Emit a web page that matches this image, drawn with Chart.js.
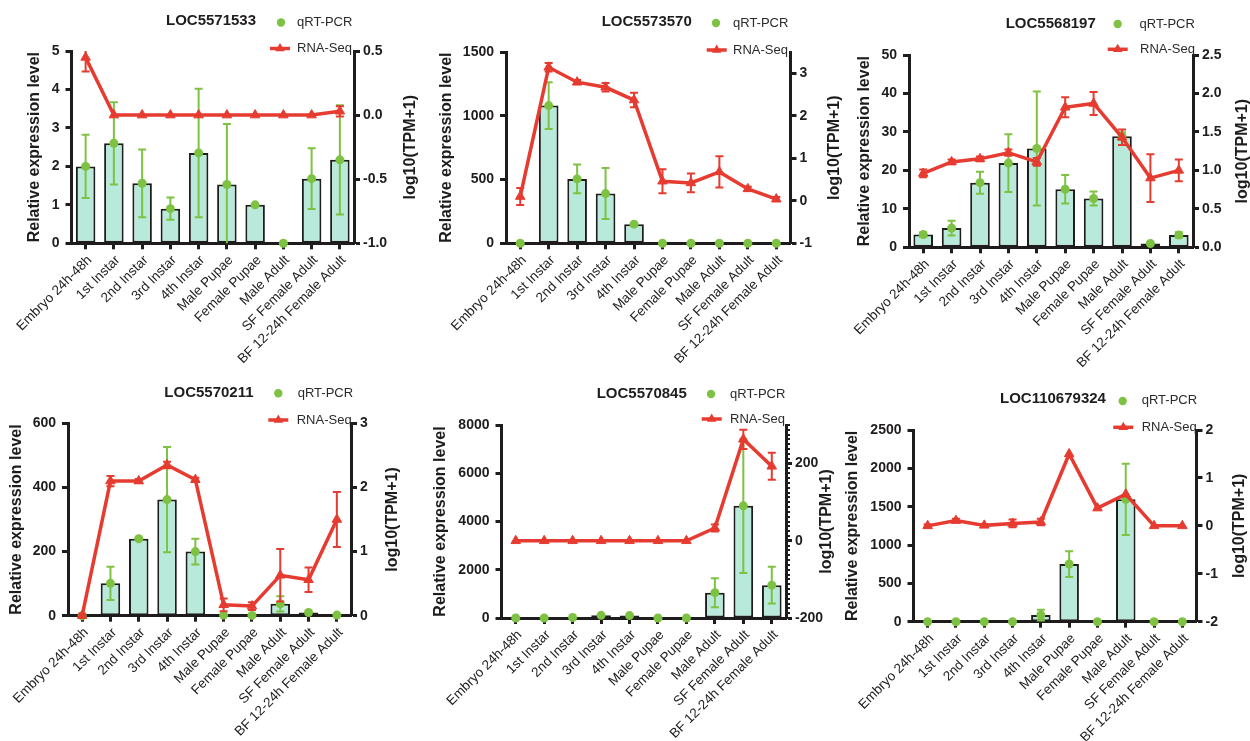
<!DOCTYPE html>
<html>
<head>
<meta charset="utf-8">
<script src="https://cdn.jsdelivr.net/npm/chart.js@4.4.1/dist/chart.umd.min.js"></script>
<style>
html,body{margin:0;padding:0;background:#fff;}
#wrap{position:relative;width:1250px;height:741px;overflow:hidden;background:#fff;}
#wrap canvas{position:absolute;left:0;top:0;}
</style>
</head>
<body>
<div id="wrap"></div>
<script>
// ---------------- DATA ----------------
const categories = ["Embryo 24h-48h","1st Instar","2nd Instar","3rd Instar","4th Instar","Male Pupae","Female Pupae","Male Adult","SF Female Adult","BF 12-24h Female Adult"];
const seriesNames = ["qRT-PCR","RNA-Seq"];
const geneNames = ["LOC5571533","LOC5573570","LOC5568197","LOC5570211","LOC5570845","LOC110679324"];
const axisTitles = ["Relative expression level","log10(TPM+1)"];

// Panel 1: LOC5571533
const qpcr1    = [2.0, 2.6, 1.56, 0.9, 2.35, 1.53, 1.0, 0, 1.68, 2.17];
const qpcrErr1 = [0.82, 1.07, 0.88, 0.29, 1.67, 1.57, 0, 0, 0.79, 1.42];
const rna1     = [0.45, 0, 0, 0, 0, 0, 0, 0, 0, 0.03];
const rnaErr1  = [0.11, 0, 0, 0, 0, 0, 0, 0, 0, 0.04];
const leftRange1 = [0, 5];      const leftTicks1 = [0,1,2,3,4,5];       const leftLabels1 = ["0","1","2","3","4","5"];
const rightRange1 = [-1, 0.5];  const rightTicks1 = [-1,-0.5,0,0.5];    const rightLabels1 = ["-1.0","-0.5","0.0","0.5"];

// Panel 2: LOC5573570
const qpcr2    = [0, 1080, 505, 390, 150, 0, 0, 0, 0, 0];
const qpcrErr2 = [0, 183, 112, 200, 0, 0, 0, 0, 0, 0];
const rna2     = [0.1, 3.14, 2.79, 2.67, 2.37, 0.46, 0.42, 0.68, 0.28, 0.04];
const rnaErr2  = [0.2, 0.1, 0.05, 0.1, 0.17, 0.28, 0.22, 0.37, 0.05, 0.05];
const leftRange2 = [0, 1500];   const leftTicks2 = [0,500,1000,1500];   const leftLabels2 = ["0","500","1000","1500"];
const rightRange2 = [-1, 3.5];  const rightTicks2 = [-1,0,1,2,3];       const rightLabels2 = ["-1","0","1","2","3"];

// Panel 3: LOC5568197
const qpcr3    = [3.3, 5.0, 16.8, 21.9, 25.7, 15.1, 12.7, 28.9, 1.0, 3.2];
const qpcrErr3 = [0.6, 1.9, 2.85, 7.5, 14.8, 3.7, 1.8, 1.0, 0, 0.7];
const rna3     = [0.96, 1.11, 1.15, 1.23, 1.11, 1.82, 1.87, 1.43, 0.9, 1.0];
const rnaErr3  = [0.05, 0.03, 0.03, 0.04, 0.05, 0.13, 0.15, 0.1, 0.31, 0.14];
const leftRange3 = [0, 50];     const leftTicks3 = [0,10,20,30,40,50];  const leftLabels3 = ["0","10","20","30","40","50"];
const rightRange3 = [0, 2.5];   const rightTicks3 = [0,0.5,1,1.5,2,2.5]; const rightLabels3 = ["0.0","0.5","1.0","1.5","2.0","2.5"];

// Panel 4: LOC5570211
const qpcr4    = [0, 101, 240, 362, 200, 2, 1, 37, 10, 2];
const qpcrErr4 = [0, 52, 4, 164, 40, 0, 0, 24, 0, 0];
const rna4     = [0, 2.1, 2.1, 2.35, 2.12, 0.17, 0.15, 0.63, 0.56, 1.5];
const rnaErr4  = [0.03, 0.08, 0.03, 0.05, 0.03, 0.1, 0.06, 0.41, 0.19, 0.43];
const leftRange4 = [0, 600];    const leftTicks4 = [0,200,400,600];     const leftLabels4 = ["0","200","400","600"];
const rightRange4 = [0, 3];     const rightTicks4 = [0,1,2,3];          const rightLabels4 = ["0","1","2","3"];

// Panel 5: LOC5570845
const qpcr5    = [0, 0, 20, 110, 100, 0, 0, 1050, 4650, 1360];
const qpcrErr5 = [0, 0, 0, 0, 0, 0, 0, 600, 2780, 760];
const rna5     = [0, 0, 0, 0, 0, 0, 0, 33, 263, 193];
const rnaErr5  = [0, 0, 0, 0, 0, 0, 0, 9, 25, 35];
const leftRange5 = [0, 8000];   const leftTicks5 = [0,2000,4000,6000,8000]; const leftLabels5 = ["0","2000","4000","6000","8000"];
const rightRange5 = [-200, 300]; const rightTicks5 = [-200,0,200];      const rightLabels5 = ["-200","0","200"];
const rightMinorStep5 = 12.5;

// Panel 6: LOC110679324
const qpcr6    = [0, 0, 0, 0, 87, 752, 0, 1596, 0, 0];
const qpcrErr6 = [0, 0, 0, 0, 70, 168, 0, 465, 0, 0];
const rna6     = [0, 0.11, 0.01, 0.05, 0.08, 1.5, 0.37, 0.66, 0, 0];
const rnaErr6  = [0.03, 0.04, 0.03, 0.08, 0.07, 0, 0, 0, 0, 0];
const leftRange6 = [0, 2500];   const leftTicks6 = [0,500,1000,1500,2000,2500]; const leftLabels6 = ["0","500","1000","1500","2000","2500"];
const rightRange6 = [-2, 2];    const rightTicks6 = [-2,-1,0,1,2];      const rightLabels6 = ["-2","-1","0","1","2"];

const panels = [
  {q:qpcr1,qe:qpcrErr1,r:rna1,re:rnaErr1,lr:leftRange1,lt:leftTicks1,ll:leftLabels1,rr:rightRange1,rt:rightTicks1,rl:rightLabels1},
  {q:qpcr2,qe:qpcrErr2,r:rna2,re:rnaErr2,lr:leftRange2,lt:leftTicks2,ll:leftLabels2,rr:rightRange2,rt:rightTicks2,rl:rightLabels2},
  {q:qpcr3,qe:qpcrErr3,r:rna3,re:rnaErr3,lr:leftRange3,lt:leftTicks3,ll:leftLabels3,rr:rightRange3,rt:rightTicks3,rl:rightLabels3},
  {q:qpcr4,qe:qpcrErr4,r:rna4,re:rnaErr4,lr:leftRange4,lt:leftTicks4,ll:leftLabels4,rr:rightRange4,rt:rightTicks4,rl:rightLabels4},
  {q:qpcr5,qe:qpcrErr5,r:rna5,re:rnaErr5,lr:leftRange5,lt:leftTicks5,ll:leftLabels5,rr:rightRange5,rt:rightTicks5,rl:rightLabels5,minor:rightMinorStep5},
  {q:qpcr6,qe:qpcrErr6,r:rna6,re:rnaErr6,lr:leftRange6,lt:leftTicks6,ll:leftLabels6,rr:rightRange6,rt:rightTicks6,rl:rightLabels6}
];

// ---------------- LAYOUT / STYLE ----------------
const FONT = '"Liberation Sans", Arial, Helvetica, sans-serif';
const INK = '#1f1c1d';
const GREEN = '#7dc243';
const RED = '#e63b30';
const MINT = '#b8e9da';
const WL = 45, WR = 45;

const layouts = [
  {L:71.5, R:354,  T:51,    B:243.3, title:[166,21],     dot:[281,22.5],    qText:[297,22.5],   line:[270,290,48.5],     rText:[297,48.5],   ltx:35,  rtx:411},
  {L:506,  R:790.5,T:52,    B:243.3, title:[601.7,21.7], dot:[716,23],      qText:[733,23],     line:[706.7,726.7,50],   rText:[733,50],     ltx:447, rtx:835},
  {L:909,  R:1193, T:55,    B:247.3, title:[1005.7,24],  dot:[1117.7,24],   qText:[1139.5,24],  line:[1107.7,1127.7,49.3],rText:[1140,49.3], ltx:865, rtx:1243},
  {L:68,   R:351,  T:423.3, B:615.7, title:[164.3,392.7],dot:[278.3,393.3], qText:[297.7,393],  line:[268.3,288.3,420],  rText:[296.7,420],  ltx:17,  rtx:392.5},
  {L:501.5,R:786,  T:425,   B:618,   title:[596.7,394],  dot:[711,394],     qText:[730,394],    line:[701.7,721.7,419],  rText:[730,419],    ltx:441, rtx:826.5},
  {L:913.5,R:1196.5,T:430,  B:621.7, title:[1000,399.3], dot:[1122.7,401],  qText:[1141.7,400.5],line:[1113.3,1133.3,427.3],rText:[1141.7,427.3],ltx:853, rtx:1240}
];

Chart.defaults.font.family = FONT;

const errPlugin = {
  id: 'errbars',
  beforeDatasetDraw(chart, args) {
    const ds = chart.data.datasets[args.index];
    if (!ds.errors) return;
    const meta = args.meta;
    const xs = chart.scales[meta.xAxisID], ys = chart.scales[meta.yAxisID];
    const ctx = chart.ctx, cap = 4;
    ctx.save();
    ctx.strokeStyle = ds.errColor;
    ctx.lineWidth = 2;
    ds.data.forEach((v, i) => {
      const e = ds.errors[i];
      if (!e) return;
      const x = xs.getPixelForValue(i);
      let hi = v + e, lo = v - e;
      const capHi = hi <= ys.max, capLo = lo >= ys.min;
      hi = Math.min(hi, ys.max); lo = Math.max(lo, ys.min);
      const yh = ys.getPixelForValue(hi), yl = ys.getPixelForValue(lo);
      ctx.beginPath();
      ctx.moveTo(x, yh); ctx.lineTo(x, yl);
      if (capHi) { ctx.moveTo(x - cap, yh); ctx.lineTo(x + cap, yh); }
      if (capLo) { ctx.moveTo(x - cap, yl); ctx.lineTo(x + cap, yl); }
      ctx.stroke();
    });
    ctx.restore();
  }
};

function decoPlugin(p, d) {
  const lay = layouts[p];
  return {
    id: 'deco' + p,
    afterDraw(chart) {
      const ctx = chart.ctx, ca = chart.chartArea;
      ctx.save();
      if (d.minor) {
        const ys = chart.scales.y1;
        ctx.strokeStyle = INK; ctx.lineWidth = 2;
        ctx.beginPath();
        for (let v = ys.min; v <= ys.max + 1e-9; v += d.minor) {
          const y = Math.round(ys.getPixelForValue(v));
          ctx.moveTo(ca.right, y); ctx.lineTo(ca.right + 4, y);
        }
        ctx.stroke();
      }
      ctx.textBaseline = 'middle';
      ctx.textAlign = 'left';
      ctx.fillStyle = INK;
      ctx.font = 'bold 15px ' + FONT;
      ctx.fillText(geneNames[p], lay.title[0], lay.title[1]);
      ctx.fillStyle = GREEN;
      ctx.beginPath(); ctx.arc(lay.dot[0], lay.dot[1], 4.2, 0, Math.PI * 2); ctx.fill();
      ctx.fillStyle = '#2a2a2a';
      ctx.font = '13px ' + FONT;
      ctx.fillText(seriesNames[0], lay.qText[0], lay.qText[1]);
      ctx.strokeStyle = RED; ctx.lineWidth = 3.5;
      ctx.beginPath(); ctx.moveTo(lay.line[0], lay.line[2]); ctx.lineTo(lay.line[1], lay.line[2]); ctx.stroke();
      const cx = (lay.line[0] + lay.line[1]) / 2, cy = lay.line[2], r = 5.5;
      ctx.fillStyle = RED;
      ctx.beginPath();
      ctx.moveTo(cx, cy - r); ctx.lineTo(cx + 0.866 * r, cy + 0.5 * r); ctx.lineTo(cx - 0.866 * r, cy + 0.5 * r); ctx.closePath();
      ctx.fill();
      ctx.fillStyle = '#2a2a2a';
      ctx.fillText(seriesNames[1], lay.rText[0], lay.rText[1]);
      const yc = (ca.top + ca.bottom) / 2;
      ctx.fillStyle = INK;
      ctx.font = 'bold 16px ' + FONT;
      ctx.textAlign = 'center';
      [[lay.ltx, axisTitles[0]], [lay.rtx, axisTitles[1]]].forEach(([x, t]) => {
        ctx.save(); ctx.translate(x, yc); ctx.rotate(-Math.PI / 2); ctx.fillText(t, 0, 0); ctx.restore();
      });
      ctx.restore();
    }
  };
}

function yScale(pos, range, ticks, labels, pad, width) {
  return {
    type: 'linear', position: pos, min: range[0], max: range[1],
    afterBuildTicks: s => { s.ticks = ticks.map(v => ({ value: v })); },
    afterFit: s => { s.width = width; },
    grid: { drawOnChartArea: false, drawTicks: true, tickLength: 6, tickWidth: 3, tickColor: INK },
    border: { display: true, width: 3, color: INK },
    ticks: {
      autoSkip: false, padding: pad, color: INK,
      font: { family: FONT, size: 14, weight: 'bold' },
      callback: (v) => { const k = ticks.indexOf(v); return k >= 0 ? labels[k] : ''; }
    }
  };
}

const wrap = document.getElementById('wrap');
panels.forEach((d, p) => {
  const lay = layouts[p];
  const HX = Math.min(130, Math.floor(741 - lay.B));
  const cv = document.createElement('canvas');
  cv.width = 1250; cv.height = 741;
  cv.style.width = '1250px'; cv.style.height = '741px';
  wrap.appendChild(cv);
  new Chart(cv, {
    type: 'bar',
    data: {
      labels: categories,
      datasets: [
        { type: 'bar', label: 'bars', data: d.q, yAxisID: 'y', backgroundColor: MINT, borderColor: INK,
          borderWidth: 2, borderSkipped: false, barPercentage: 0.69, categoryPercentage: 1, order: 3 },
        { type: 'line', label: seriesNames[0], data: d.q, yAxisID: 'y', showLine: false, pointRadius: 4.5,
          pointBackgroundColor: GREEN, pointBorderColor: GREEN, pointBorderWidth: 0, clip: false, order: 2,
          errors: d.qe, errColor: GREEN },
        { type: 'line', label: seriesNames[1], data: d.r, yAxisID: 'y1', borderColor: RED, borderWidth: 3.5,
          pointStyle: 'triangle', pointRadius: 5.5, pointBackgroundColor: RED, pointBorderColor: RED,
          pointBorderWidth: 1, tension: 0, clip: false, order: 1, errors: d.re, errColor: RED }
      ]
    },
    options: {
      responsive: false, animation: false, devicePixelRatio: 1, events: [],
      layout: { autoPadding: false, padding: { left: lay.L - WL, right: 1250 - lay.R - WR, top: lay.T, bottom: Math.max(0, 741 - lay.B - HX) } },
      plugins: { legend: { display: false }, title: { display: false }, tooltip: { enabled: false } },
      scales: {
        x: {
          type: 'category', offset: true,
          afterFit: s => { s.height = HX; },
          grid: { offset: false, drawOnChartArea: false, drawTicks: true, tickLength: 6, tickWidth: 3, tickColor: INK },
          border: { display: true, width: 3, color: INK },
          ticks: { autoSkip: false, minRotation: 45, maxRotation: 45, padding: 3, labelOffset: 4, color: '#222',
                   font: { family: FONT, size: 13.5 } }
        },
        y: yScale('left', d.lr, d.lt, d.ll, 6, WL),
        y1: yScale('right', d.rr, d.rt, d.rl, 3, WR)
      }
    },
    plugins: [errPlugin, decoPlugin(p, d)]
  });
});
</script>
</body>
</html>
